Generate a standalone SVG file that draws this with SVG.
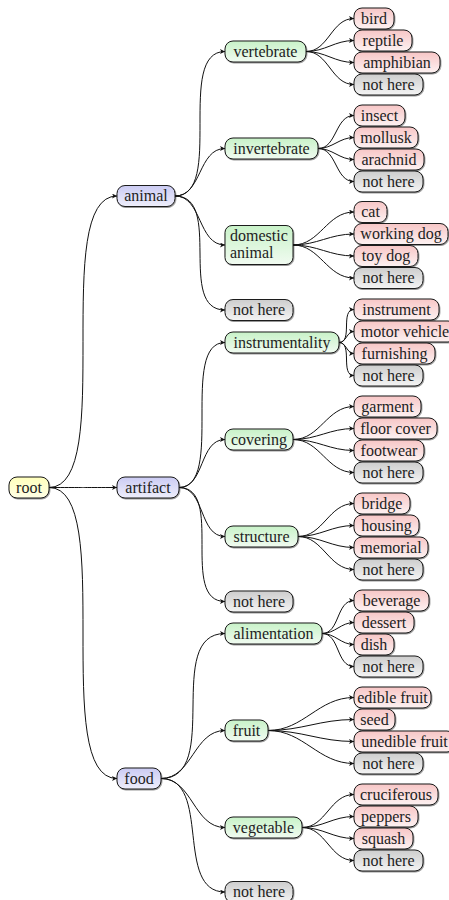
<svg xmlns="http://www.w3.org/2000/svg" width="449" height="900" viewBox="0 0 449 900">
<defs>
<linearGradient id="gR" x1="0" y1="0" x2="0" y2="1"><stop offset="0" stop-color="#f7c6c6"/><stop offset="1" stop-color="#fdf2f2"/></linearGradient>
<linearGradient id="gG" x1="0" y1="0" x2="0" y2="1"><stop offset="0" stop-color="#c8f2c8"/><stop offset="1" stop-color="#f1fbf1"/></linearGradient>
<linearGradient id="gB" x1="0" y1="0" x2="0" y2="1"><stop offset="0" stop-color="#cbcbf3"/><stop offset="1" stop-color="#eeeefb"/></linearGradient>
<linearGradient id="gK" x1="0" y1="0" x2="0" y2="1"><stop offset="0" stop-color="#cdcdcd"/><stop offset="1" stop-color="#f4f4f4"/></linearGradient>
<linearGradient id="gY" x1="0" y1="0" x2="0" y2="1"><stop offset="0" stop-color="#ffffbb"/><stop offset="1" stop-color="#ffffe6"/></linearGradient>
<filter id="sh" x="-10%" y="-20%" width="120%" height="150%"><feDropShadow dx="0.7" dy="0.9" stdDeviation="0.5" flood-color="#000" flood-opacity="0.45"/></filter>
<marker id="ah" markerUnits="userSpaceOnUse" markerWidth="7" markerHeight="6" refX="5" refY="2.5" orient="auto"><path d="M0,0 L5,2.5 L0,5 L1.3,2.5 z" fill="#111"/></marker>
</defs>
<style>
rect{stroke:#1a1a1a;stroke-width:1;filter:url(#sh)}
.r{fill:url(#gR)} .g{fill:url(#gG)} .b{fill:url(#gB)} .k{fill:url(#gK)} .y{fill:url(#gY)}
text{font-family:"Liberation Serif","Times New Roman",serif;font-size:16px;fill:#222;text-anchor:middle}
#edges path{fill:none;stroke:#111;stroke-width:1;marker-end:url(#ah)}
</style>
<g id="edges">
<path d="M49,487.5 C117,487.5 49,196 117,196"/>
<path d="M49,487.5 C117,487.5 49,487.5 117,487.5"/>
<path d="M49,487.5 C117,487.5 49,778.5 117,778.5"/>
<path d="M175,196 C225,196 175,51.5 225,51.5"/>
<path d="M175,196 C202,196 198,148.5 225,148.5"/>
<path d="M175,196 C202.4,196 197.6,245 225,245"/>
<path d="M175,196 C223.7,196 176.3,310 225,310"/>
<path d="M179,487.5 C225,487.5 179,342.5 225,342.5"/>
<path d="M179,487.5 C205,487.5 199,439.5 225,439.5"/>
<path d="M179,487.5 C205.3,487.5 198.7,536.5 225,536.5"/>
<path d="M179,487.5 C225,487.5 179,601.5 225,601.5"/>
<path d="M161,778.5 C223,778.5 163,633.5 225,633.5"/>
<path d="M161,778.5 C192.3,778.5 193.7,730.5 225,730.5"/>
<path d="M161,778.5 C192.6,778.5 193.4,827.5 225,827.5"/>
<path d="M161,778.5 C212,778.5 174,892 225,892"/>
<path d="M306,51.5 C328.8,51.5 331.2,18.5 354,18.5"/>
<path d="M306,51.5 C325.3,51.5 334.7,40.5 354,40.5"/>
<path d="M306,51.5 C325.3,51.5 334.7,62.5 354,62.5"/>
<path d="M306,51.5 C328.8,51.5 331.2,84.5 354,84.5"/>
<path d="M318,148.5 C337.1,148.5 334.9,115.5 354,115.5"/>
<path d="M318,148.5 C332.7,148.5 339.3,137.5 354,137.5"/>
<path d="M318,148.5 C332.7,148.5 339.3,159.5 354,159.5"/>
<path d="M318,148.5 C337.1,148.5 334.9,181.5 354,181.5"/>
<path d="M293,245 C320.2,245 326.8,212 354,212"/>
<path d="M293,245 C317.3,245 329.7,234 354,234"/>
<path d="M293,245 C317.3,245 329.7,256 354,256"/>
<path d="M293,245 C320.2,245 326.8,278 354,278"/>
<path d="M339,342.5 C353.2,342.5 339.8,309.5 354,309.5"/>
<path d="M339,342.5 C346.3,342.5 346.7,331.5 354,331.5"/>
<path d="M339,342.5 C346.3,342.5 346.7,353.5 354,353.5"/>
<path d="M339,342.5 C353.2,342.5 339.8,375.5 354,375.5"/>
<path d="M293,439.5 C320.2,439.5 326.8,406.5 354,406.5"/>
<path d="M293,439.5 C317.3,439.5 329.7,428.5 354,428.5"/>
<path d="M293,439.5 C317.3,439.5 329.7,450.5 354,450.5"/>
<path d="M293,439.5 C320.2,439.5 326.8,472.5 354,472.5"/>
<path d="M298,536.5 C323.4,536.5 328.6,503.5 354,503.5"/>
<path d="M298,536.5 C320.3,536.5 331.7,525.5 354,525.5"/>
<path d="M298,536.5 C320.3,536.5 331.7,547.5 354,547.5"/>
<path d="M298,536.5 C323.4,536.5 328.6,569.5 354,569.5"/>
<path d="M322,633.5 C340,633.5 336,600.5 354,600.5"/>
<path d="M322,633.5 C335.2,633.5 340.8,622.5 354,622.5"/>
<path d="M322,633.5 C335.2,633.5 340.8,644.5 354,644.5"/>
<path d="M322,633.5 C340,633.5 336,666.5 354,666.5"/>
<path d="M268,730.5 C304.1,730.5 317.9,697.5 354,697.5"/>
<path d="M268,730.5 C301.9,730.5 320.1,719.5 354,719.5"/>
<path d="M268,730.5 C301.9,730.5 320.1,741.5 354,741.5"/>
<path d="M268,730.5 C304.1,730.5 317.9,763.5 354,763.5"/>
<path d="M302,827.5 C326.1,827.5 329.9,794.5 354,794.5"/>
<path d="M302,827.5 C322.8,827.5 333.2,816.5 354,816.5"/>
<path d="M302,827.5 C322.8,827.5 333.2,838.5 354,838.5"/>
<path d="M302,827.5 C326.1,827.5 329.9,860.5 354,860.5"/>
</g>
<g id="root"><rect class="y" x="9" y="477" width="40" height="21" rx="8"/><text x="29" y="492.5">root</text></g>
<g id="animal"><rect class="b" x="117" y="185.5" width="58" height="21" rx="8"/><text x="146" y="201">animal</text></g>
<g id="artifact"><rect class="b" x="117" y="477" width="62" height="21" rx="8"/><text x="148" y="492.5">artifact</text></g>
<g id="food"><rect class="b" x="117" y="768" width="44" height="21" rx="8"/><text x="139" y="783.5">food</text></g>
<g id="vertebrate"><rect class="g" x="225" y="41" width="81" height="21" rx="8"/><text x="265.5" y="56.5">vertebrate</text></g>
<g id="invertebrate"><rect class="g" x="225" y="138" width="93" height="21" rx="8"/><text x="271.5" y="153.5">invertebrate</text></g>
<g id="domestic"><rect class="g" x="225" y="225.5" width="68" height="39" rx="7"/><text x="230" y="240.5" style="text-anchor:start">domestic</text><text x="230" y="258" style="text-anchor:start">animal</text></g>
<g id="animal-other"><rect class="k" x="225" y="299.5" width="68" height="21" rx="8"/><text x="259" y="315">not here</text></g>
<g id="instrumentality"><rect class="g" x="225" y="332" width="114" height="21" rx="8"/><text x="282" y="347.5">instrumentality</text></g>
<g id="covering"><rect class="g" x="225" y="429" width="68" height="21" rx="8"/><text x="259" y="444.5">covering</text></g>
<g id="structure"><rect class="g" x="225" y="526" width="73" height="21" rx="8"/><text x="261.5" y="541.5">structure</text></g>
<g id="artifact-other"><rect class="k" x="225" y="591" width="68" height="21" rx="8"/><text x="259" y="606.5">not here</text></g>
<g id="alimentation"><rect class="g" x="225" y="623" width="97" height="21" rx="8"/><text x="273.5" y="638.5">alimentation</text></g>
<g id="fruit"><rect class="g" x="225" y="720" width="43" height="21" rx="8"/><text x="246.5" y="735.5">fruit</text></g>
<g id="vegetable"><rect class="g" x="225" y="817" width="77" height="21" rx="8"/><text x="263.5" y="832.5">vegetable</text></g>
<g id="food-other"><rect class="k" x="225" y="881.5" width="68" height="21" rx="8"/><text x="259" y="897">not here</text></g>
<g id="bird"><rect class="r" x="354" y="8" width="40" height="21" rx="8"/><text x="374" y="23.5">bird</text></g>
<g id="reptile"><rect class="r" x="354" y="30" width="58" height="21" rx="8"/><text x="383" y="45.5">reptile</text></g>
<g id="amphibian"><rect class="r" x="354" y="52" width="86" height="21" rx="8"/><text x="397" y="67.5">amphibian</text></g>
<g id="vert-other"><rect class="k" x="354" y="74" width="69" height="21" rx="8"/><text x="388.5" y="89.5">not here</text></g>
<g id="insect"><rect class="r" x="354" y="105" width="51" height="21" rx="8"/><text x="379.5" y="120.5">insect</text></g>
<g id="mollusk"><rect class="r" x="354" y="127" width="64" height="21" rx="8"/><text x="386" y="142.5">mollusk</text></g>
<g id="arachnid"><rect class="r" x="354" y="149" width="70" height="21" rx="8"/><text x="389" y="164.5">arachnid</text></g>
<g id="invert-other"><rect class="k" x="354" y="171" width="69" height="21" rx="8"/><text x="388.5" y="186.5">not here</text></g>
<g id="cat"><rect class="r" x="354" y="201.5" width="33" height="21" rx="8"/><text x="370.5" y="217">cat</text></g>
<g id="working-dog"><rect class="r" x="354" y="223.5" width="94" height="21" rx="8"/><text x="401" y="239">working dog</text></g>
<g id="toy-dog"><rect class="r" x="354" y="245.5" width="64" height="21" rx="8"/><text x="386" y="261">toy dog</text></g>
<g id="dom-other"><rect class="k" x="354" y="267.5" width="69" height="21" rx="8"/><text x="388.5" y="283">not here</text></g>
<g id="instrument"><rect class="r" x="354" y="299" width="85" height="21" rx="8"/><text x="396.5" y="314.5">instrument</text></g>
<g id="motor-vehicle"><rect class="r" x="354" y="321" width="102" height="21" rx="8"/><text x="405" y="336.5">motor vehicle</text></g>
<g id="furnishing"><rect class="r" x="354" y="343" width="81" height="21" rx="8"/><text x="394.5" y="358.5">furnishing</text></g>
<g id="instr-other"><rect class="k" x="354" y="365" width="69" height="21" rx="8"/><text x="388.5" y="380.5">not here</text></g>
<g id="garment"><rect class="r" x="354" y="396" width="67" height="21" rx="8"/><text x="387.5" y="411.5">garment</text></g>
<g id="floor-cover"><rect class="r" x="354" y="418" width="83" height="21" rx="8"/><text x="395.5" y="433.5">floor cover</text></g>
<g id="footwear"><rect class="r" x="354" y="440" width="70" height="21" rx="8"/><text x="389" y="455.5">footwear</text></g>
<g id="cover-other"><rect class="k" x="354" y="462" width="69" height="21" rx="8"/><text x="388.5" y="477.5">not here</text></g>
<g id="bridge"><rect class="r" x="354" y="493" width="56" height="21" rx="8"/><text x="382" y="508.5">bridge</text></g>
<g id="housing"><rect class="r" x="354" y="515" width="65" height="21" rx="8"/><text x="386.5" y="530.5">housing</text></g>
<g id="memorial"><rect class="r" x="354" y="537" width="74" height="21" rx="8"/><text x="391" y="552.5">memorial</text></g>
<g id="struct-other"><rect class="k" x="354" y="559" width="69" height="21" rx="8"/><text x="388.5" y="574.5">not here</text></g>
<g id="beverage"><rect class="r" x="354" y="590" width="75" height="21" rx="8"/><text x="391.5" y="605.5">beverage</text></g>
<g id="dessert"><rect class="r" x="354" y="612" width="60" height="21" rx="8"/><text x="384" y="627.5">dessert</text></g>
<g id="dish"><rect class="r" x="354" y="634" width="40" height="21" rx="8"/><text x="374" y="649.5">dish</text></g>
<g id="alim-other"><rect class="k" x="354" y="656" width="69" height="21" rx="8"/><text x="388.5" y="671.5">not here</text></g>
<g id="edible-fruit"><rect class="r" x="354" y="687" width="77" height="21" rx="8"/><text x="392.5" y="702.5">edible fruit</text></g>
<g id="seed"><rect class="r" x="354" y="709" width="41" height="21" rx="8"/><text x="374.5" y="724.5">seed</text></g>
<g id="unedible-fruit"><rect class="r" x="354" y="731" width="101" height="21" rx="8"/><text x="404.5" y="746.5">unedible fruit</text></g>
<g id="fruit-other"><rect class="k" x="354" y="753" width="69" height="21" rx="8"/><text x="388.5" y="768.5">not here</text></g>
<g id="cruciferous"><rect class="r" x="354" y="784" width="84" height="21" rx="8"/><text x="396" y="799.5">cruciferous</text></g>
<g id="peppers"><rect class="r" x="354" y="806" width="64" height="21" rx="8"/><text x="386" y="821.5">peppers</text></g>
<g id="squash"><rect class="r" x="354" y="828" width="59" height="21" rx="8"/><text x="383.5" y="843.5">squash</text></g>
<g id="veg-other"><rect class="k" x="354" y="850" width="69" height="21" rx="8"/><text x="388.5" y="865.5">not here</text></g>
</svg>
